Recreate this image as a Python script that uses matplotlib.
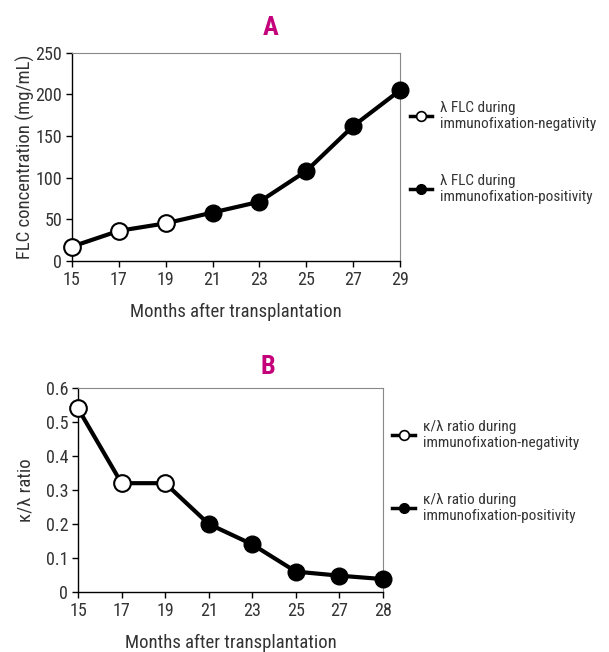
import matplotlib
matplotlib.use("Agg")
import matplotlib.pyplot as plt
from matplotlib import font_manager
from matplotlib.lines import Line2D

# pick a narrow font if one is installed
names = {f.name for f in font_manager.fontManager.ttflist}
narrow = [n for n in ['Liberation Sans Narrow', 'Roboto Condensed', 'Open Sans Condensed']
          if n in names]
plt.rcParams['font.family'] = narrow + ['DejaVu Sans']
plt.rcParams['font.stretch'] = 'condensed'

# data
months_a = ['15', '17', '19', '21', '23', '25', '27', '29']
flc_a = [17, 36, 45, 58, 71, 108, 162, 205]
months_b = ['15', '17', '19', '21', '23', '25', '27', '28']
ratio_b = [0.54, 0.32, 0.32, 0.20, 0.14, 0.06, 0.048, 0.038]
n_negative = 3  # first points are immunofixation-negative (open markers)

labels_a = ['λ FLC during\nimmunofixation-negativity',
            'λ FLC during\nimmunofixation-positivity']
labels_b = ['κ/λ ratio during\nimmunofixation-negativity',
            'κ/λ ratio during\nimmunofixation-positivity']

text_col = '#333333'
title_col = '#C4007A'

fig = plt.figure(figsize=(6.09, 6.52), dpi=100)
ax_a = fig.add_axes([0.118, 0.600, 0.539, 0.319])
ax_b = fig.add_axes([0.128, 0.092, 0.501, 0.313])


def draw_panel(ax, cats, vals, ylim, yticks, ylabel, ylabelpad, title, title_x,
               title_pad, labels, leg_anchor):
    x = list(range(len(cats)))
    ax.plot(x, vals, color='black', lw=3, zorder=2)
    ax.plot(x[:n_negative], vals[:n_negative], 'o', ms=12, mfc='white',
            mec='black', mew=1.5, zorder=3, clip_on=False)
    ax.plot(x[n_negative:], vals[n_negative:], 'o', ms=12, mfc='black',
            mec='black', zorder=3, clip_on=False)
    ax.set_xlim(0, len(cats) - 1)
    ax.set_ylim(*ylim)
    ax.set_xticks(x)
    ax.set_xticklabels(cats)
    ax.set_yticks(yticks)
    ax.tick_params(axis='both', labelsize=13, colors=text_col, length=4,
                   width=1, direction='out', pad=3)
    ax.tick_params(axis='both', color='black')
    for s in ['left', 'bottom']:
        ax.spines[s].set_color('black')
        ax.spines[s].set_linewidth(1)
    for s in ['top', 'right']:
        ax.spines[s].set_color('#888888')
        ax.spines[s].set_linewidth(0.8)
    ax.set_xlabel('Months after transplantation', fontsize=13.5, color=text_col,
                  labelpad=10)
    ax.set_ylabel(ylabel, fontsize=13.5, color=text_col, labelpad=ylabelpad)
    ax.set_title(title, fontsize=19, fontweight='bold', color=title_col,
                 x=title_x, pad=title_pad)
    handles = [
        Line2D([], [], color='black', lw=2.5, marker='o', ms=7, mfc='white',
               mec='black', mew=1.2),
        Line2D([], [], color='black', lw=2.5, marker='o', ms=7, mfc='black',
               mec='black'),
    ]
    leg = ax.legend(handles, labels, loc='center left', bbox_to_anchor=leg_anchor,
                    frameon=False, fontsize=11, handlelength=1.5,
                    handletextpad=0.5, labelspacing=2.8, borderaxespad=0)
    for t in leg.get_texts():
        t.set_color(text_col)


draw_panel(ax_a, months_a, flc_a, (0, 250), [0, 50, 100, 150, 200, 250],
           'FLC concentration (mg/mL)', 0.5, 'A', 0.604, 13, labels_a, (1.01, 0.52))
draw_panel(ax_b, months_b, ratio_b, (0, 0.6), [0, 0.1, 0.2, 0.3, 0.4, 0.5, 0.6],
           'κ/λ ratio', 8, 'B', 0.623, 10, labels_b, (1.01, 0.59))
ax_b.set_yticklabels(['0', '0.1', '0.2', '0.3', '0.4', '0.5', '0.6'])

fig.savefig('out.png', dpi=100)
